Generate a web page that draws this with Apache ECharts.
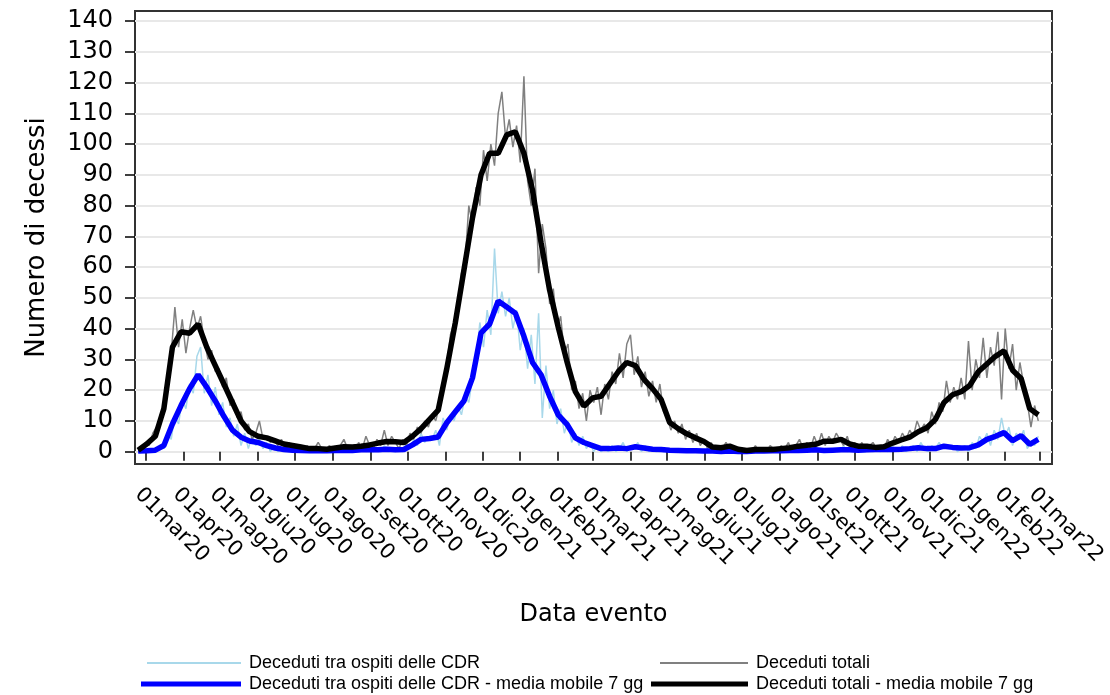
<!DOCTYPE html>
<html><head><meta charset="utf-8">
<script src="https://cdn.jsdelivr.net/npm/echarts@6/dist/echarts.min.js"></script>
<style>html,body{margin:0;padding:0;background:#fff}#c{width:1110px;height:695px}</style>
</head><body><div id="c"></div>
<script>
// ---- DATA ----
const rawStart = '2020-02-24';   // first day of the daily series (sampled every 3 days)
const rawStepDays = 3;
const maStart = '2020-02-24';    // first day of the 7-day moving averages (sampled weekly)
const maStepDays = 7;

const seriesNames = [
  'Deceduti tra ospiti delle CDR',
  'Deceduti totali',
  'Deceduti tra ospiti delle CDR - media mobile 7 gg',
  'Deceduti totali - media mobile 7 gg'
];

const cdrDaily = [
  0,0,1,0,1,0,2,1,6,4,
  12,9,17,14,22,19,31,34,19,25,
  15,21,12,16,8,11,5,9,2,6,
  1,5,2,4,1,3,0,2,0,1,
  0,1,0,1,0,1,0,0,1,0,
  1,0,0,1,0,1,0,1,0,1,
  0,2,0,1,0,1,0,2,0,1,
  0,1,0,3,1,4,2,6,3,5,
  4,7,2,11,7,12,10,15,12,18,
  16,24,30,42,34,46,38,66,45,52,
  44,50,40,46,33,40,27,38,22,45,
  11,28,14,20,9,14,6,10,3,6,
  2,5,1,3,0,2,0,1,0,2,
  0,1,3,0,2,1,3,0,2,0,
  1,0,1,0,1,0,0,1,0,1,
  0,0,1,0,0,1,0,0,0,1,
  0,0,1,0,0,0,1,0,0,1,
  0,0,0,1,0,0,1,0,0,1,
  0,1,0,0,1,0,1,0,1,0,
  1,0,2,0,1,0,1,0,0,1,
  0,1,0,1,0,2,1,0,2,0,
  1,2,0,3,1,0,2,1,3,1,
  2,1,2,0,1,2,0,3,1,5,
  3,6,2,7,4,11,5,8,2,6,
  4,7,1,3,2,5
];

const totDaily = [
  0,1,3,2,6,8,10,16,24,32,
  47,34,43,32,40,46,40,44,36,30,
  33,26,27,21,24,15,17,11,13,7,
  9,4,6,10,4,5,3,4,2,4,
  1,3,1,2,1,0,2,0,1,3,
  1,0,2,1,0,2,4,1,2,0,
  3,1,5,2,1,4,2,7,2,5,
  3,1,4,2,6,4,8,6,10,8,
  12,10,15,22,28,38,42,47,58,62,
  80,74,86,80,98,88,100,93,110,117,
  102,108,99,106,94,122,88,80,92,58,
  74,66,48,53,40,44,32,35,20,23,
  14,19,10,20,16,21,12,22,17,26,
  22,32,24,35,38,25,31,21,26,18,
  23,16,22,13,11,7,10,6,9,4,
  7,3,6,2,4,1,3,0,2,1,
  3,1,2,0,1,0,1,0,2,0,
  1,0,2,1,0,2,1,3,0,2,
  4,1,3,1,5,2,6,2,5,3,
  6,4,2,5,1,3,1,3,0,2,
  3,1,2,1,4,2,5,3,6,4,
  7,5,10,7,9,6,13,9,16,13,
  23,16,21,17,24,17,36,20,30,24,
  37,24,34,28,39,17,40,27,35,20,
  29,22,16,8,15,10
];

const cdrMA7 = [
  0.2,0.3,0.5,2,9,15,20.5,25,21,16.5,
  11.5,7,4.7,3.5,3,2,1.2,0.7,0.5,0.4,
  0.3,0.4,0.3,0.4,0.5,0.4,0.6,0.7,0.6,0.8,
  0.6,0.7,2.2,4,4.3,4.8,9.4,13,16.5,24,
  38.6,41.5,49,47,45,37.5,29,25,18,12,
  9,4.5,3,2,1,1,1.2,1,1.6,1.2,
  0.8,0.7,0.5,0.4,0.3,0.3,0.2,0.2,0.1,0.2,
  0.1,0.1,0.2,0.2,0.3,0.3,0.4,0.4,0.5,0.6,
  0.4,0.5,0.6,0.6,0.5,0.6,0.7,0.7,0.7,0.8,
  1,1.3,1,1,1.8,1.4,1.2,1.3,2.2,4,
  5,6.2,3.6,5.2,2.4,4
];

const totMA7 = [
  0.5,2.5,5,14,34,39,38.5,41.5,34,28,
  22,16,10,6.5,5,4.5,3.5,2.5,2,1.5,
  1,1,0.8,1.2,1.6,1.5,1.8,2.2,2.8,3.3,
  3.2,3,5,7.5,10.5,13.5,27,42,59,76,
  90,97,97,103,104,97,85,68,52.5,40.5,
  29.5,19.5,14.8,17.5,18,22,26,29,28,23.5,
  20.5,17,9.5,7.5,5.8,4.5,3.3,1.5,1.3,1.8,
  0.8,0.4,0.7,0.7,0.7,1,1.3,1.8,2.1,2.4,
  3.4,3.4,4,2.5,1.8,1.8,1.4,1.6,2.8,3.8,
  4.7,6.5,7.8,10.5,16,18.5,19.5,21.5,26,28.5,
  31,32.8,26.5,23.8,14,12
];

const monthAbbr = ['gen','feb','mar','apr','mag','giu','lug','ago','set','ott','nov','dic'];
const xTickDates = [
  '2020-03-01','2020-04-01','2020-05-01','2020-06-01','2020-07-01','2020-08-01','2020-09-01',
  '2020-10-01','2020-11-01','2020-12-01','2021-01-01','2021-02-01','2021-03-01','2021-04-01',
  '2021-05-01','2021-06-01','2021-07-01','2021-08-01','2021-09-01','2021-10-01','2021-11-01',
  '2021-12-01','2022-01-01','2022-02-01','2022-03-01'
];
const yTicks = [0,10,20,30,40,50,60,70,80,90,100,110,120,130,140];

// ---- BUILD ----
const DAY = 86400000;
function toPairs(start, step, vals) {
  const t0 = Date.parse(start);
  return vals.map((v, i) => [t0 + i * step * DAY, v]);
}
const xTicks = xTickDates.map(d => Date.parse(d));
const t0 = Date.parse('2020-03-01');

const chart = echarts.init(document.getElementById('c'), null, {renderer: 'canvas'});

function lg(name, left, top, w, h) {
  return {
    data: [{name: name, icon: 'rect'}],
    left: left, top: top, itemWidth: w, itemHeight: h, itemGap: 0,
    selectedMode: false, padding: 0,
    textStyle: {fontFamily: 'Liberation Sans', fontSize: 18, color: '#000', padding: [0,0,0,3]}
  };
}

chart.setOption({
  animation: false,
  backgroundColor: '#fff',
  grid: {left: 135, right: 58, top: 11, bottom: 231, show: true, borderColor: '#333', borderWidth: 2, backgroundColor: 'transparent'},
  legend: [
    lg(seriesNames[0], 147, 654, 94, 2),
    lg(seriesNames[1], 660, 654, 88, 2),
    lg(seriesNames[2], 141, 675, 100, 5),
    lg(seriesNames[3], 651, 675, 97, 5)
  ],
  xAxis: {
    type: 'value',
    min: t0 - 8.57 * DAY,
    max: t0 + 740.2 * DAY,
    name: 'Data evento', nameLocation: 'middle', nameGap: 139,
    nameTextStyle: {fontFamily: 'DejaVu Sans', fontSize: 24, color: '#000'},
    axisLine: {show: false},
    axisTick: {show: true, customValues: xTicks, length: 9, lineStyle: {color: '#000', width: 1.5}},
    axisLabel: {
      customValues: xTicks, rotate: -45, margin: 20, verticalAlign: 'top',
      fontFamily: 'DejaVu Sans', fontSize: 21, color: '#000',
      formatter: v => { const d = new Date(v); return '01' + monthAbbr[d.getUTCMonth()] + String(d.getUTCFullYear()).slice(2); }
    },
    splitLine: {show: false}
  },
  yAxis: {
    type: 'value', min: -4.0, max: 143.25,
    name: 'Numero di decessi', nameLocation: 'middle', nameGap: 85,
    nameTextStyle: {fontFamily: 'DejaVu Sans', fontSize: 26, color: '#000'},
    axisLine: {show: false},
    axisTick: {show: true, customValues: yTicks, length: 10, lineStyle: {color: '#000', width: 1.5}},
    axisLabel: {customValues: yTicks, margin: 22, fontFamily: 'DejaVu Sans', fontSize: 24, color: '#000'},
    splitLine: {show: true, lineStyle: {color: '#e8e8e8', width: 2}}
  },
  series: [
    {name: seriesNames[0], type: 'line', data: toPairs(rawStart, rawStepDays, cdrDaily), showSymbol: false, symbol: 'none',
     lineStyle: {color: '#a8d8ea', width: 1.5}, itemStyle: {color: '#a8d8ea'}, z: 2},
    {name: seriesNames[1], type: 'line', data: toPairs(rawStart, rawStepDays, totDaily), showSymbol: false, symbol: 'none',
     lineStyle: {color: '#808080', width: 1.5}, itemStyle: {color: '#808080'}, z: 3},
    {name: seriesNames[2], type: 'line', data: toPairs(maStart, maStepDays, cdrMA7), showSymbol: false, symbol: 'none',
     lineStyle: {color: '#0000ff', width: 5.5}, itemStyle: {color: '#0000ff'}, z: 4},
    {name: seriesNames[3], type: 'line', data: toPairs(maStart, maStepDays, totMA7), showSymbol: false, symbol: 'none',
     lineStyle: {color: '#000000', width: 5.5}, itemStyle: {color: '#000000'}, z: 5}
  ]
});
</script></body></html>
